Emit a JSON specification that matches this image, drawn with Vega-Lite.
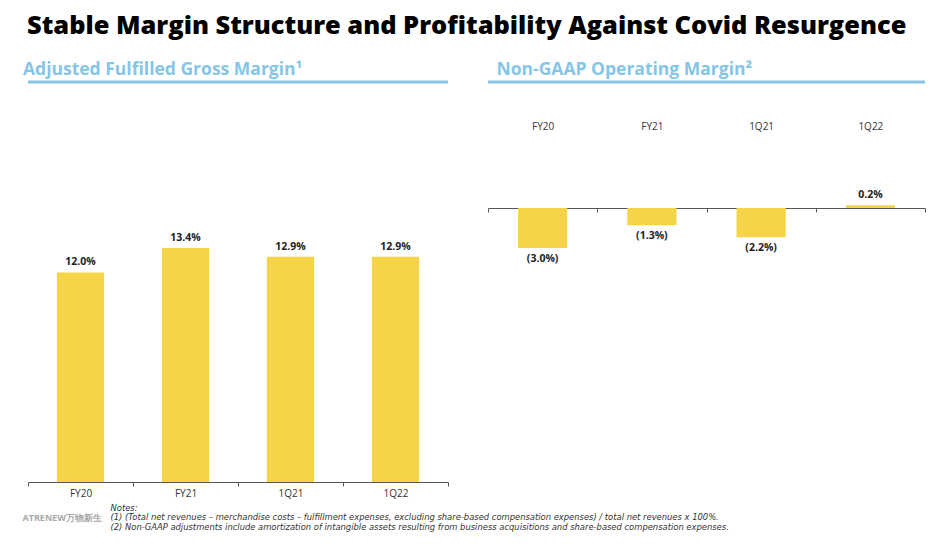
{
  "$schema": "https://vega.github.io/schema/vega-lite/v6.json",
  "background": "white",
  "padding": {"left": 22, "top": 13, "right": 5, "bottom": 5},
  "title": {"text": "Stable Margin Structure and Profitability Against Covid Resurgence", "anchor": "start", "font": "Open Sans", "fontSize": 25.4, "fontWeight": 800, "color": "#000000", "offset": 22, "dx": 5},
  "hconcat": [
    {
      "width": 420,
      "height": 400,
      "title": {"text": "Adjusted Fulfilled Gross Margin¹", "anchor": "start", "dx": 1, "offset": 2, "color": "#85c5e6", "fontSize": 17.5, "fontWeight": "bold", "font": "Open Sans"},
      "data": {"values": [
        {"period": "FY20", "value": 12.0, "label": "12.0%"},
        {"period": "FY21", "value": 13.4, "label": "13.4%"},
        {"period": "1Q21", "value": 12.9, "label": "12.9%"},
        {"period": "1Q22", "value": 12.9, "label": "12.9%"}
      ]},
      "layer": [
        {
          "mark": {"type": "bar", "color": "#f5d447", "width": {"band": 0.45}},
          "encoding": {
            "x": {"field": "period", "type": "nominal", "sort": null,
              "scale": {"paddingInner": 0, "paddingOuter": 0},
              "axis": {"orient": "bottom", "title": ["Notes:", "(1) (Total net revenues – merchandise costs – fulfillment expenses, excluding share-based compensation expenses) / total net revenues x 100%.", "(2) Non-GAAP adjustments include amortization of intangible assets resulting from business acquisitions and share-based compensation expenses."],
                "titleX": 82, "titleY": 21, "titleAlign": "left", "titleBaseline": "top", "titleAngle": 0, "titleFontSize": 8.4, "titleFontStyle": "italic", "titleFontWeight": "normal", "titleColor": "#333333", "titleLineHeight": 9.8, "titleFont": "DejaVu Sans",
                "labelAngle": 0, "labelFont": "Open Sans", "labelFontSize": 10, "labelColor": "#333333", "labelPadding": 2,
                "domainColor": "#555555", "tickColor": "#555555", "tickSize": 4, "tickBand": "extent", "grid": false}},
            "y": {"field": "value", "type": "quantitative", "scale": {"domain": [0, 22.9], "nice": false, "zero": false},
              "axis": {"title": "ATRENEW万物新生", "labels": false, "ticks": false, "domain": true, "domainOpacity": 0, "grid": false, "titleAngle": 0, "titleX": -6, "titleY": 435, "titleAlign": "left", "titleBaseline": "middle", "titleColor": "#a8a8a8", "titleFontSize": 9, "titleFontWeight": "bold", "titleFont": "Open Sans"}}
          }
        },
        {
          "mark": {"type": "text", "baseline": "bottom", "dy": -5, "fontWeight": "bold", "fontSize": 10.5, "font": "Open Sans", "color": "#222222"},
          "encoding": {
            "x": {"field": "period", "type": "nominal", "sort": null},
            "y": {"field": "value", "type": "quantitative"},
            "text": {"field": "label"}
          }
        },
        {
          "data": {"values": [{"value": 22.9}]},
          "mark": {"type": "rule", "color": "#85c5e6", "strokeWidth": 3},
          "encoding": {"y": {"field": "value", "type": "quantitative"}}
        }
      ]
    },
    {
      "width": 437,
      "height": 400,
      "title": {"text": "Non-GAAP Operating Margin²", "anchor": "start", "dx": 10, "offset": 2, "color": "#85c5e6", "fontSize": 17.5, "fontWeight": "bold", "font": "Open Sans"},
      "data": {"values": [
        {"period": "FY20", "value": -3.0, "label": "(3.0%)"},
        {"period": "FY21", "value": -1.3, "label": "(1.3%)"},
        {"period": "1Q21", "value": -2.2, "label": "(2.2%)"},
        {"period": "1Q22", "value": 0.2, "label": "0.2%"}
      ]},
      "layer": [
        {
          "mark": {"type": "bar", "color": "#f5d447", "width": {"band": 0.45}},
          "encoding": {
            "x": {"field": "period", "type": "nominal", "sort": null,
              "scale": {"paddingInner": 0, "paddingOuter": 0},
              "axis": {"orient": "top", "offset": -126, "title": null, "labelAngle": 0, "labelFont": "Open Sans", "labelFontSize": 10, "labelColor": "#333333", "labelPadding": 81,
                "domainColor": "#555555", "tickColor": "#555555", "tickSize": -4, "tickBand": "extent", "grid": false}},
            "y": {"field": "value", "type": "quantitative", "scale": {"domain": [-20.6, 9.47], "nice": false, "zero": false}, "axis": null}
          }
        },
        {
          "transform": [{"filter": "datum.value >= 0"}],
          "mark": {"type": "text", "baseline": "bottom", "dy": -5, "fontWeight": "bold", "fontSize": 10.5, "font": "Open Sans", "color": "#222222"},
          "encoding": {
            "x": {"field": "period", "type": "nominal", "sort": null},
            "y": {"field": "value", "type": "quantitative", "axis": null},
            "text": {"field": "label"}
          }
        },
        {
          "transform": [{"filter": "datum.value < 0"}],
          "mark": {"type": "text", "baseline": "top", "dy": 6, "fontWeight": "bold", "fontSize": 10.5, "font": "Open Sans", "color": "#222222"},
          "encoding": {
            "x": {"field": "period", "type": "nominal", "sort": null},
            "y": {"field": "value", "type": "quantitative", "axis": null},
            "text": {"field": "label"}
          }
        },
        {
          "data": {"values": [{"value": 9.47}]},
          "mark": {"type": "rule", "color": "#85c5e6", "strokeWidth": 3},
          "encoding": {"y": {"field": "value", "type": "quantitative", "axis": null}}
        }
      ]
    }
  ],
  "spacing": 40,
  "bounds": "flush",
  "config": {"view": {"stroke": null}, "font": "Open Sans"}
}
